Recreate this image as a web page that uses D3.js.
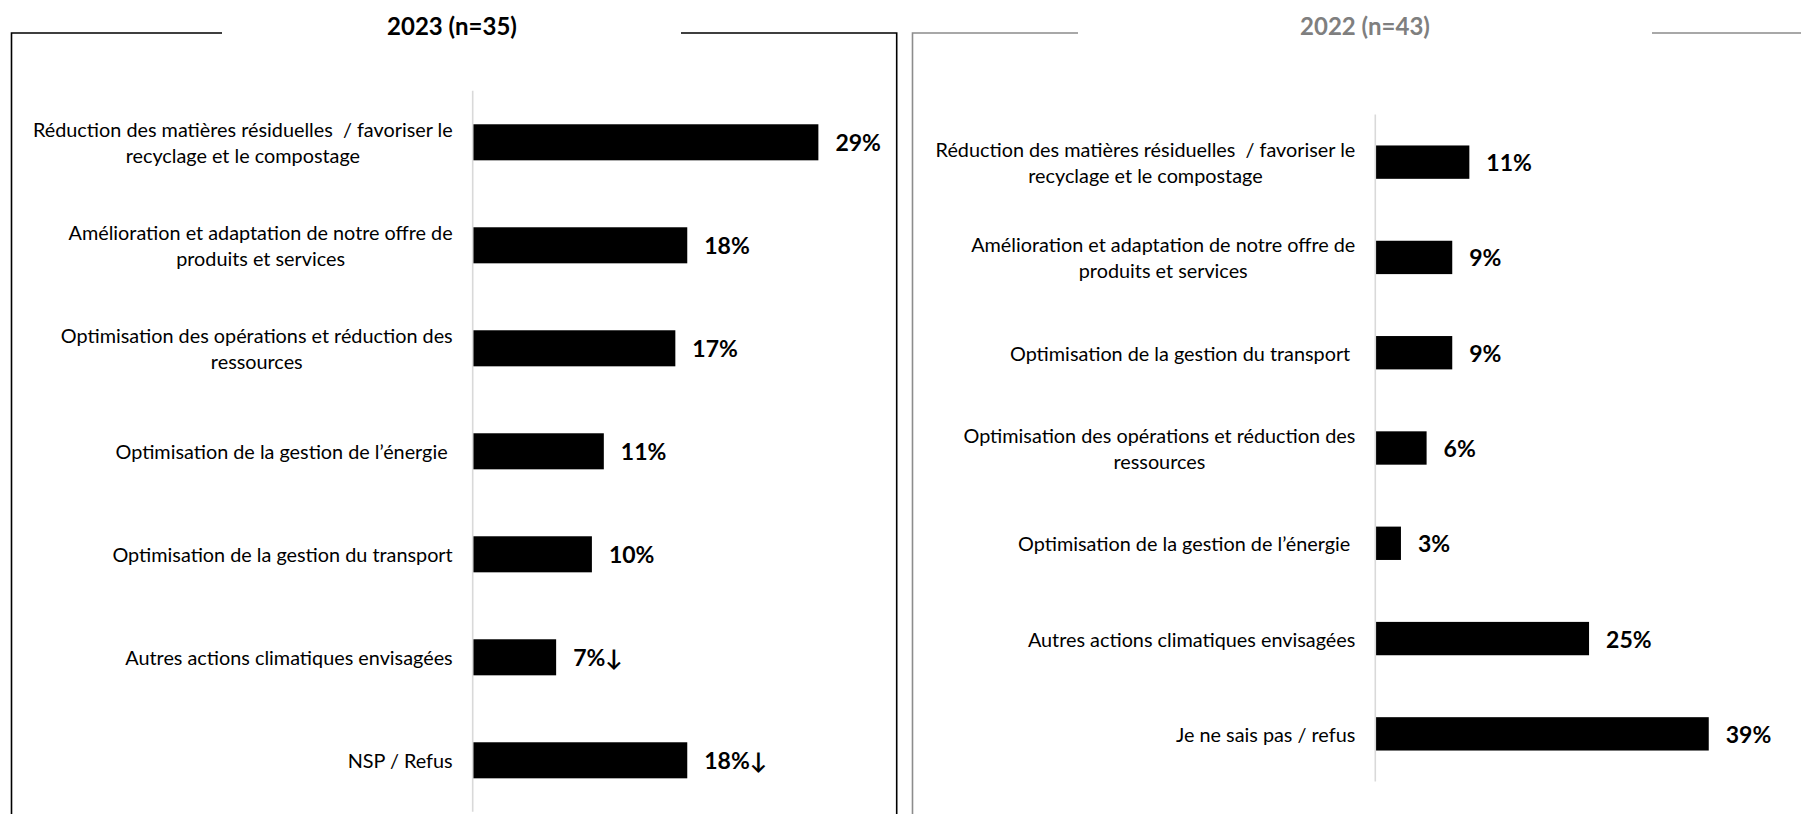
<!DOCTYPE html>
<html>
<head>
<meta charset="utf-8">
<script src="https://cdn.jsdelivr.net/npm/d3@7"></script>
<style>
  html, body { margin: 0; padding: 0; background: #fff; }
  svg { display: block; font-family: Lato, "Open Sans", sans-serif; }
  text { white-space: pre; }
</style>
</head>
<body>
<script>
// ---------- DATA ----------
const categories2023 = [
  "Réduction des matières résiduelles  / favoriser le\nrecyclage et le compostage",
  "Amélioration et adaptation de notre offre de\nproduits et services",
  "Optimisation des opérations et réduction des\nressources",
  "Optimisation de la gestion de l’énergie ",
  "Optimisation de la gestion du transport",
  "Autres actions climatiques envisagées",
  "NSP / Refus"
];
const values2023 = [29, 18, 17, 11, 10, 7, 18];
const flags2023 = ["", "", "", "", "", "↓", "↓"];

const categories2022 = [
  "Réduction des matières résiduelles  / favoriser le\nrecyclage et le compostage",
  "Amélioration et adaptation de notre offre de\nproduits et services",
  "Optimisation de la gestion du transport ",
  "Optimisation des opérations et réduction des\nressources",
  "Optimisation de la gestion de l’énergie ",
  "Autres actions climatiques envisagées",
  "Je ne sais pas / refus"
];
const values2022 = [11, 9, 9, 6, 3, 25, 39];
const flags2022 = ["", "", "", "", "", "", ""];

const panelTitles = ["2023 (n=35)", "2022 (n=43)"];

// ---------- LAYOUT ----------
const W = 1801, H = 814;
const svg = d3.select("body").append("svg").attr("width", W).attr("height", H);

const panels = [
  { title: panelTitles[0], cats: categories2023, vals: values2023, flags: flags2023,
    axisX: 472.7, pxPerPct: 11.92, yRange: [90.8, 811.8],
    frame: { x0: 11.5, x1: 896.7, top: 33, gapL: 222, gapR: 681 },
    titleX: 452, titleColor: "#000", frameColor: "#000" },
  { title: panelTitles[1], cats: categories2022, vals: values2022, flags: flags2022,
    axisX: 1375.3, pxPerPct: 8.55, yRange: [114.5, 781.5],
    frame: { x0: 912.5, x1: 1830, top: 33, gapL: 1078, gapR: 1652 },
    titleX: 1365, titleColor: "#7f7f7f", frameColor: "#8c8c8c" }
];

// determine label font size to match reference line width
const probe = svg.append("text").attr("font-size", 20).text("Réduction des matières résiduelles  / favoriser le");
const probeW = probe.node().getComputedTextLength();
probe.remove();
const labelSize = 20 * 420 / probeW;
const lineH = 26;

panels.forEach(p => {
  const g = svg.append("g");

  // frame
  const f = p.frame;
  g.append("path")
    .attr("d", `M${f.gapL},${f.top}H${f.x0}V${H + 10}M${f.gapR},${f.top}H${f.x1}V${H + 10}`)
    .attr("fill", "none").attr("stroke", p.frameColor).attr("stroke-width", 1.6);

  // title
  g.append("text")
    .attr("x", p.titleX).attr("y", 25)
    .attr("text-anchor", "middle").attr("dominant-baseline", "central")
    .attr("font-size", 24).attr("font-weight", 700).attr("fill", p.titleColor)
    .text(p.title);

  const y = d3.scaleBand().domain(d3.range(p.cats.length))
    .range(p.yRange).paddingInner(0.65).paddingOuter(0.325);
  const x = d3.scaleLinear().domain([0, 40]).range([p.axisX, p.axisX + 40 * p.pxPerPct]);

  // bars
  g.selectAll("rect.bar").data(p.vals).join("rect")
    .attr("class", "bar")
    .attr("x", x(0)).attr("y", (d, i) => y(i))
    .attr("width", d => x(d) - x(0)).attr("height", y.bandwidth())
    .attr("fill", "#000");

  // axis line (category axis)
  const axis = d3.axisLeft(y).tickSize(0).tickFormat("");
  const ag = g.append("g").attr("transform", `translate(${x(0)},0)`).call(axis);
  ag.select(".domain").attr("stroke", "#d9d9d9").attr("stroke-width", 1.6).attr("d", `M0,${p.yRange[0]}V${p.yRange[1]}`);

  // category labels
  const labelRight = x(0) - 20;
  p.cats.forEach((c, i) => {
    const lines = c.split("\n");
    const cy = y(i) + y.bandwidth() / 2;
    const t = g.append("text").attr("font-size", labelSize).attr("fill", "#000");
    const tsp = lines.map((ln, k) => t.append("tspan")
      .attr("y", cy + (k - (lines.length - 1) / 2) * lineH)
      .attr("dominant-baseline", "central")
      .text(ln));
    const widths = tsp.map(s => s.node().getComputedTextLength());
    const maxW = d3.max(widths);
    if (lines.length > 1) {
      tsp.forEach(s => s.attr("x", labelRight - maxW / 2).attr("text-anchor", "middle"));
    } else {
      tsp.forEach(s => s.attr("x", labelRight).attr("text-anchor", "end"));
    }
  });

  // value labels
  g.selectAll("text.val").data(p.vals).join("text")
    .attr("class", "val")
    .attr("x", d => x(d) + 17)
    .attr("y", (d, i) => y(i) + y.bandwidth() / 2)
    .attr("dominant-baseline", "central")
    .attr("font-size", 23).attr("font-weight", 700).attr("fill", "#000")
    .text((d, i) => d + "%" + p.flags[i]);
});
</script>
</body>
</html>
